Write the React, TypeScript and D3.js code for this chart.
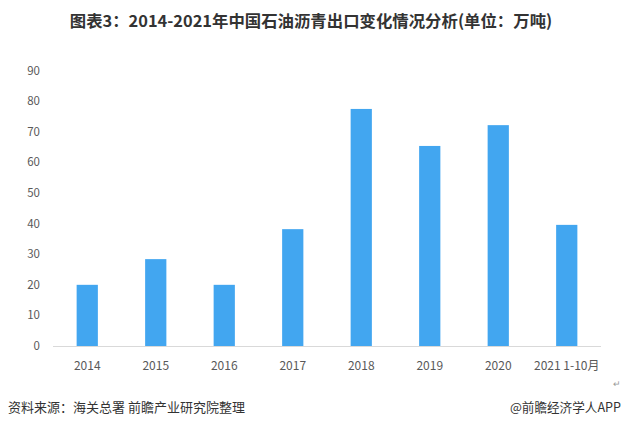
import * as d3 from "d3";
import { useEffect, useRef } from "react";

const categories = ["2014", "2015", "2016", "2017", "2018", "2019", "2020", "2021 1-10月"];
const exportValues = [20, 28.4, 20, 38.2, 77.5, 65.4, 72.2, 39.6];
const yTicks = [0, 10, 20, 30, 40, 50, 60, 70, 80, 90];

const title = "图表3：2014-2021年中国石油沥青出口变化情况分析(单位：万吨)";
const source = "资料来源：海关总署 前瞻产业研究院整理";
const credit = "@前瞻经济学人APP";

const width = 623;
const height = 427;
const font = "'Noto Sans CJK SC', 'Noto Sans', sans-serif";

export default function App() {
    const svgRef = useRef<SVGSVGElement | null>(null);

    useEffect(() => {
        if (!svgRef.current) return;
        const svg = d3.select(svgRef.current);
        svg.selectAll("*").remove();

        const x = d3.scaleBand<string>()
            .domain(categories)
            .range([53, 601])
            .paddingInner(0.69)
            .paddingOuter(0.345);

        const y = d3.scaleLinear()
            .domain([0, 90])
            .range([346, 70.7]);

        // title
        svg.append("text")
            .attr("x", 311)
            .attr("y", 27)
            .attr("text-anchor", "middle")
            .attr("font-family", font)
            .attr("font-weight", "bold")
            .attr("font-size", "16.4px")
            .attr("fill", "#333333")
            .text(title);

        // y tick labels
        svg.append("g")
            .selectAll("text")
            .data(yTicks)
            .enter()
            .append("text")
            .attr("x", 40)
            .attr("y", d => y(d))
            .attr("dy", "0.35em")
            .attr("text-anchor", "end")
            .attr("font-family", font)
            .attr("font-size", "11.5px")
            .attr("fill", "#595959")
            .text(d => d);

        // bars
        svg.append("g")
            .selectAll("rect")
            .data(exportValues)
            .enter()
            .append("rect")
            .attr("x", (_, i) => x(categories[i]) ?? 0)
            .attr("y", d => y(d))
            .attr("width", x.bandwidth())
            .attr("height", d => y(0) - y(d))
            .attr("fill", "#42a6f0");

        // baseline
        svg.append("line")
            .attr("x1", 53)
            .attr("x2", 601)
            .attr("y1", y(0) + 0.5)
            .attr("y2", y(0) + 0.5)
            .attr("stroke", "#d9d9d9")
            .attr("stroke-width", 1);

        // x labels
        svg.append("g")
            .selectAll("text")
            .data(categories)
            .enter()
            .append("text")
            .attr("x", d => (x(d) ?? 0) + x.bandwidth() / 2)
            .attr("y", 370)
            .attr("text-anchor", "middle")
            .attr("font-family", font)
            .attr("font-size", "12px")
            .attr("fill", "#595959")
            .text(d => d);

        svg.append("text")
            .attr("x", 617)
            .attr("y", 387)
            .attr("text-anchor", "middle")
            .attr("font-family", font)
            .attr("font-size", "9px")
            .attr("fill", "#999999")
            .text("↵");

        // footer
        svg.append("text")
            .attr("x", 8)
            .attr("y", 412)
            .attr("font-family", font)
            .attr("font-size", "13px")
            .attr("fill", "#333333")
            .text(source);

        svg.append("text")
            .attr("x", 621)
            .attr("y", 412)
            .attr("text-anchor", "end")
            .attr("font-family", font)
            .attr("font-size", "12.6px")
            .attr("fill", "#333333")
            .text(credit);
    }, []);

    return (
        <div style={{ position: "fixed", left: 0, top: 0, width, height, background: "#ffffff" }}>
            <svg ref={svgRef} width={width} height={height} />
        </div>
    );
}
